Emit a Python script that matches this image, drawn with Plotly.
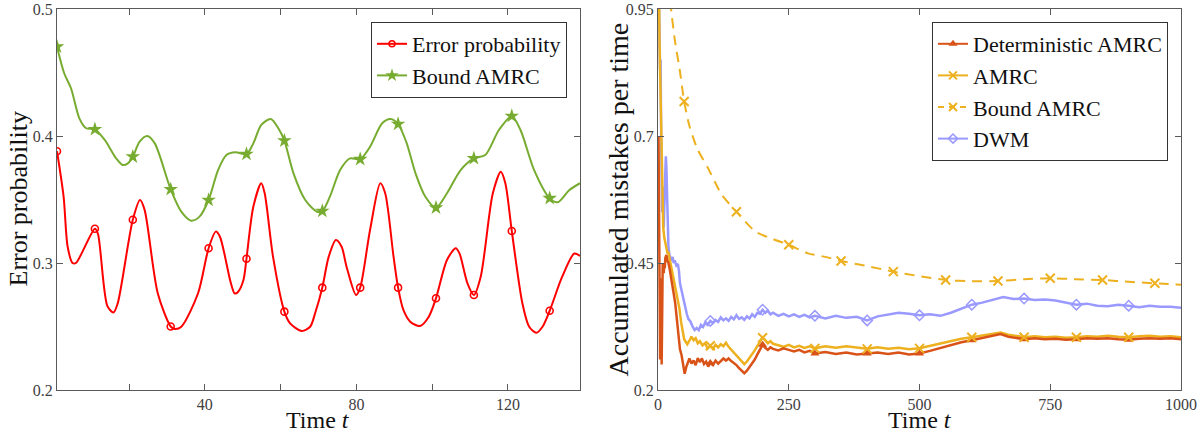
import plotly.graph_objects as go

# ---------------- Left panel data ----------------
err_t = [1, 2.75, 3.8, 5.1, 6.0, 11, 11.8, 14.3, 15.9, 17.0, 21, 22.9, 24.1, 27.6, 31, 32.1, 33.8,
         38.2, 41, 42.9, 44.0, 46.8, 47.9, 48.8, 50.2, 51, 52.8, 54.9, 55.8, 58.0, 61, 62.5, 65.6,
         67.8, 69.1, 71, 72.7, 74.6, 76.1, 77.4, 79.9, 81, 83.6, 86.3, 87.6, 89.8, 91, 92.4, 94.2,
         96.8, 99.1, 101, 103.9, 106.2, 107.2, 109.3, 111, 112.8, 116.0, 118.1, 119.3, 121, 123.8,
         125.6, 127.5, 129.1, 131, 134.3, 137.5, 139]
err_v = [0.388, 0.352, 0.313, 0.300, 0.300, 0.327, 0.323, 0.266, 0.261, 0.268, 0.334, 0.3496, 0.342,
         0.276, 0.250, 0.248, 0.2498, 0.276, 0.3116, 0.3247, 0.3207, 0.285, 0.276, 0.2774, 0.2866,
         0.3034, 0.3443, 0.3628, 0.3549, 0.3050, 0.2617, 0.2525, 0.2465, 0.2498, 0.2604, 0.2806,
         0.3050, 0.3181, 0.3128, 0.2971, 0.2748, 0.2806, 0.3260, 0.3628, 0.3549, 0.3050, 0.2806,
         0.2630, 0.2538, 0.2504, 0.2577, 0.2722, 0.3024, 0.3116, 0.3076, 0.2840, 0.2748, 0.2892,
         0.3549, 0.3719, 0.3628, 0.3252, 0.2683, 0.2498, 0.2451, 0.2498, 0.2624, 0.2892, 0.3075,
         0.3055]

bnd_t = [1, 2.9, 4.7, 6.9, 8.7, 11, 13.6, 16.6, 18.3, 19.7, 21, 22.8, 24.8, 26.8, 31, 33.8, 36.4,
         38.6, 41, 43.5, 45.7, 48.1, 51, 52.8, 54.9, 57.4, 59.4, 61, 63.4, 66.5, 69.6, 71, 73.0,
         75.7, 78.3, 81, 83.6, 86.8, 89.0, 91, 93.2, 95.6, 98.2, 101, 103.9, 107.5, 111, 114.0,
         117.6, 121, 123.3, 126.9, 131, 133.1, 136.2, 139]
bnd_v = [0.4703, 0.4494, 0.4376, 0.4139, 0.4061, 0.4053, 0.3969, 0.3824, 0.3772, 0.3785, 0.3837,
         0.3955, 0.4000, 0.3942, 0.3580, 0.3404, 0.3333, 0.3365, 0.3496, 0.3732, 0.3850, 0.3872,
         0.3858, 0.3942, 0.4087, 0.4134, 0.4061, 0.3963, 0.3706, 0.3496, 0.3404, 0.3409, 0.3522,
         0.3732, 0.3824, 0.3817, 0.3916, 0.4100, 0.4134, 0.4094, 0.3950, 0.3706, 0.3522, 0.3435,
         0.3549, 0.3732, 0.3824, 0.3850, 0.4047, 0.4157, 0.4047, 0.3732, 0.3510, 0.3478, 0.3575,
         0.3628]

left_marker_t = [1, 11, 21, 31, 41, 51, 61, 71, 81, 91, 101, 111, 121, 131]
left_xticks = [20, 40, 60, 80, 100, 120]
left_xticktext = ["", "40", "", "80", "", "120"]
left_yticks = [0.2, 0.3, 0.4, 0.5]

# ---------------- Right panel data ----------------
dwm_t = [1, 2, 3, 4, 5, 6, 7, 8, 9, 10, 11, 12, 13, 14, 15, 16, 17, 18, 19, 20, 22, 24, 26, 28, 30,
         32, 35, 38, 40, 42, 45, 48, 51, 55, 58, 62, 66, 70, 74, 78, 82, 86, 90, 95, 100, 105, 110,
         115, 120, 125, 130, 135, 140, 145, 150, 155, 160, 165, 170, 175, 180, 185, 190, 195, 200,
         205, 210, 215, 220, 230, 240, 250, 260, 270, 280, 290, 300, 320, 340, 360, 380, 400, 420,
         440, 460, 480, 500, 520, 540, 560, 580, 600, 620, 640, 660, 680, 700, 720, 740, 760, 780,
         800, 820, 840, 860, 880, 900, 920, 940, 960, 980, 1000]
dwm_v = [1.0, 0.97, 0.90, 0.83, 0.85, 0.70, 0.62, 0.55, 0.60, 0.53, 0.52, 0.56, 0.58, 0.63, 0.66,
         0.64, 0.60, 0.55, 0.50, 0.48, 0.465, 0.46, 0.455, 0.462, 0.45, 0.455, 0.445, 0.448, 0.435,
         0.41, 0.395, 0.38, 0.365, 0.35, 0.34, 0.335, 0.325, 0.318, 0.322, 0.318, 0.328, 0.324,
         0.332, 0.328, 0.336, 0.332, 0.338, 0.334, 0.343, 0.337, 0.341, 0.336, 0.344, 0.339, 0.347,
         0.340, 0.343, 0.338, 0.345, 0.341, 0.349, 0.344, 0.352, 0.350, 0.358, 0.352, 0.356, 0.349,
         0.352, 0.346, 0.350, 0.345, 0.349, 0.344, 0.348, 0.343, 0.346, 0.341, 0.346, 0.342, 0.344,
         0.337, 0.345, 0.348, 0.352, 0.350, 0.347, 0.349, 0.346, 0.352, 0.360, 0.368, 0.372, 0.378,
         0.383, 0.379, 0.380, 0.377, 0.378, 0.376, 0.372, 0.368, 0.370, 0.366, 0.365, 0.368, 0.366,
         0.363, 0.366, 0.364, 0.364, 0.362]

amrc_t = [1, 2, 3, 4, 5, 6, 7, 8, 9, 10, 12, 14, 16, 18, 20, 22, 24, 26, 29, 32, 35, 38, 41, 44, 47,
          50, 53, 56, 60, 64, 68, 72, 76, 80, 85, 90, 95, 100, 105, 110, 115, 120, 125, 130, 135,
          140, 145, 150, 155, 160, 165, 170, 175, 180, 185, 190, 195, 200, 205, 210, 215, 220, 230,
          240, 250, 260, 270, 280, 290, 300, 320, 340, 360, 380, 400, 420, 440, 460, 480, 500, 520,
          540, 560, 580, 600, 620, 640, 655, 670, 690, 700, 720, 740, 760, 780, 800, 820, 840, 860,
          880, 900, 920, 940, 960, 980, 1000]
amrc_v = [1.0, 0.97, 0.88, 0.83, 0.80, 0.72, 0.64, 0.58, 0.54, 0.52, 0.50, 0.49, 0.48, 0.47, 0.47,
          0.46, 0.445, 0.433, 0.42, 0.41, 0.395, 0.38, 0.36, 0.335, 0.315, 0.30, 0.295, 0.29, 0.297,
          0.305, 0.298, 0.302, 0.292, 0.296, 0.288, 0.292, 0.282, 0.287, 0.281, 0.289, 0.284, 0.29,
          0.286, 0.293, 0.285, 0.279, 0.274, 0.268, 0.262, 0.256, 0.251, 0.256, 0.263, 0.27, 0.278,
          0.287, 0.296, 0.303, 0.298, 0.292, 0.296, 0.291, 0.288, 0.285, 0.289, 0.284, 0.287, 0.283,
          0.286, 0.282, 0.286, 0.283, 0.286, 0.283, 0.281, 0.284, 0.281, 0.283, 0.280, 0.282, 0.287,
          0.292, 0.297, 0.301, 0.304, 0.307, 0.310, 0.313, 0.309, 0.305, 0.304, 0.306, 0.304, 0.305,
          0.303, 0.304, 0.306, 0.305, 0.307, 0.305, 0.304, 0.306, 0.307, 0.305, 0.306, 0.304]

det_t = [1, 2, 3, 4, 5, 6, 7, 8, 9, 10, 11, 12, 13, 14, 16, 18, 20, 22, 24, 26, 28, 30, 33, 36, 39,
         42, 45, 48, 51, 54, 57, 60, 64, 68, 72, 76, 80, 84, 88, 92, 96, 100, 105, 110, 115, 120,
         125, 130, 135, 140, 145, 150, 155, 160, 165, 170, 175, 180, 185, 190, 195, 200, 205, 210,
         215, 220, 230, 240, 250, 260, 270, 280, 290, 300, 320, 340, 360, 380, 400, 420, 440, 460,
         480, 500, 520, 540, 560, 580, 600, 620, 640, 655, 670, 690, 700, 720, 740, 760, 780, 800,
         820, 840, 860, 880, 900, 920, 940, 960, 980, 1000]
det_v = [0.70, 0.50, 0.33, 0.26, 0.30, 0.42, 0.25, 0.38, 0.45, 0.446, 0.43, 0.45, 0.44, 0.46, 0.466,
         0.455, 0.45, 0.44, 0.425, 0.41, 0.40, 0.39, 0.37, 0.335, 0.30, 0.28, 0.269, 0.25, 0.232,
         0.245, 0.256, 0.262, 0.252, 0.258, 0.249, 0.263, 0.255, 0.262, 0.251, 0.256, 0.246, 0.253,
         0.249, 0.258, 0.252, 0.257, 0.262, 0.258, 0.262, 0.257, 0.253, 0.249, 0.243, 0.237, 0.233,
         0.238, 0.245, 0.252, 0.26, 0.27, 0.28, 0.289, 0.283, 0.279, 0.284, 0.281, 0.278, 0.282,
         0.279, 0.276, 0.279, 0.274, 0.277, 0.272, 0.275, 0.271, 0.274, 0.27, 0.272, 0.274, 0.271,
         0.274, 0.270, 0.272, 0.277, 0.283, 0.289, 0.294, 0.298, 0.302, 0.306, 0.31, 0.305, 0.301,
         0.300, 0.302, 0.300, 0.301, 0.299, 0.300, 0.302, 0.301, 0.302, 0.300, 0.299, 0.301, 0.302,
         0.301, 0.302, 0.300]

bamrc_t = [10, 15, 20, 25, 32, 42, 50, 60, 75, 96, 122, 150, 186, 220, 250, 287, 320, 350, 400,
           450, 500, 550, 600, 650, 700, 750, 800, 850, 900, 950, 1000]
bamrc_v = [1.5, 1.15, 1.02, 0.95, 0.89, 0.827, 0.768, 0.72, 0.675, 0.636, 0.584, 0.551, 0.512,
           0.497, 0.486, 0.469, 0.462, 0.454, 0.444, 0.433, 0.424, 0.4165, 0.414, 0.4146, 0.418,
           0.420, 0.418, 0.4165, 0.413, 0.410, 0.407]

bamrc_marker_t = [50, 150, 250, 350, 450, 550, 650, 750, 850, 950]
series_marker_t = [100, 200, 300, 400, 500, 600, 700, 800, 900]
right_xticks = [0, 250, 500, 750, 1000]
right_yticks = [0.2, 0.45, 0.7, 0.95]

# ---------------- Styling ----------------
RED = "#FF0000"
GREEN = "#77AC30"
DORANGE = "#D95319"
YELLOW = "#EDB120"
LBLUE = "#9999FF"
SERIF = "Liberation Serif, Times New Roman, serif"
AXC = "#5a5a5a"


def pick(ts, vs, keys):
    d = dict(zip(ts, vs))
    return [d[k] for k in keys]


fig = go.Figure()

# Left panel curves
fig.add_trace(go.Scatter(x=err_t, y=err_v, mode="lines", line=dict(color=RED, width=2, shape="spline", smoothing=0.8),
                         showlegend=False, xaxis="x", yaxis="y", hoverinfo="skip"))
fig.add_trace(go.Scatter(x=bnd_t, y=bnd_v, mode="lines", line=dict(color=GREEN, width=2, shape="spline", smoothing=0.8),
                         showlegend=False, xaxis="x", yaxis="y", hoverinfo="skip"))
fig.add_trace(go.Scatter(x=left_marker_t, y=pick(err_t, err_v, left_marker_t), mode="markers",
                         marker=dict(symbol="circle-open", size=7, color=RED, line=dict(width=1.6)),
                         showlegend=False, xaxis="x", yaxis="y"))
fig.add_trace(go.Scatter(x=left_marker_t, y=pick(bnd_t, bnd_v, left_marker_t), mode="markers",
                         marker=dict(symbol="star", size=11, color=GREEN, line=dict(width=0)),
                         showlegend=False, xaxis="x", yaxis="y"))
# legend entries (left)
fig.add_trace(go.Scatter(x=[None], y=[None], mode="lines+markers", name="Error probability",
                         line=dict(color=RED, width=2),
                         marker=dict(symbol="circle-open", size=6, color=RED, line=dict(width=1.5)),
                         legend="legend", xaxis="x", yaxis="y"))
fig.add_trace(go.Scatter(x=[None], y=[None], mode="lines+markers", name="Bound AMRC",
                         line=dict(color=GREEN, width=2),
                         marker=dict(symbol="star", size=10, color=GREEN),
                         legend="legend", xaxis="x", yaxis="y"))

# Right panel curves
fig.add_trace(go.Scatter(x=dwm_t, y=dwm_v, mode="lines", line=dict(color=LBLUE, width=2.5),
                         showlegend=False, xaxis="x2", yaxis="y2", hoverinfo="skip"))
fig.add_trace(go.Scatter(x=bamrc_t, y=bamrc_v, mode="lines",
                         line=dict(color=YELLOW, width=2, dash="10px,7px", shape="spline", smoothing=0.6),
                         showlegend=False, xaxis="x2", yaxis="y2", hoverinfo="skip"))
fig.add_trace(go.Scatter(x=amrc_t, y=amrc_v, mode="lines", line=dict(color=YELLOW, width=2.5),
                         showlegend=False, xaxis="x2", yaxis="y2", hoverinfo="skip"))
fig.add_trace(go.Scatter(x=det_t, y=det_v, mode="lines", line=dict(color=DORANGE, width=2.5),
                         showlegend=False, xaxis="x2", yaxis="y2", hoverinfo="skip"))
# markers (right)
fig.add_trace(go.Scatter(x=series_marker_t, y=pick(dwm_t, dwm_v, series_marker_t), mode="markers",
                         marker=dict(symbol="diamond-open", size=8, color=LBLUE, line=dict(width=1.5)),
                         showlegend=False, xaxis="x2", yaxis="y2"))
fig.add_trace(go.Scatter(x=bamrc_marker_t, y=pick(bamrc_t, bamrc_v, bamrc_marker_t), mode="markers",
                         marker=dict(symbol="x-thin-open", size=9, color=YELLOW, line=dict(width=2, color=YELLOW)),
                         showlegend=False, xaxis="x2", yaxis="y2"))
fig.add_trace(go.Scatter(x=series_marker_t, y=pick(det_t, det_v, series_marker_t), mode="markers",
                         marker=dict(symbol="triangle-up", size=8, color=DORANGE),
                         showlegend=False, xaxis="x2", yaxis="y2"))
fig.add_trace(go.Scatter(x=series_marker_t, y=pick(amrc_t, amrc_v, series_marker_t), mode="markers",
                         marker=dict(symbol="x-thin-open", size=9, color=YELLOW, line=dict(width=2, color=YELLOW)),
                         showlegend=False, xaxis="x2", yaxis="y2"))
# legend entries (right)
fig.add_trace(go.Scatter(x=[None], y=[None], mode="lines+markers", name="Deterministic AMRC",
                         line=dict(color=DORANGE, width=2), marker=dict(symbol="triangle-up", size=8, color=DORANGE),
                         legend="legend2", xaxis="x2", yaxis="y2"))
fig.add_trace(go.Scatter(x=[None], y=[None], mode="lines+markers", name="AMRC",
                         line=dict(color=YELLOW, width=2),
                         marker=dict(symbol="x-thin-open", size=8, color=YELLOW, line=dict(width=2, color=YELLOW)),
                         legend="legend2", xaxis="x2", yaxis="y2"))
fig.add_trace(go.Scatter(x=[None], y=[None], mode="lines+markers", name="Bound AMRC",
                         line=dict(color=YELLOW, width=2, dash="6px,5px"),
                         marker=dict(symbol="x-thin-open", size=8, color=YELLOW, line=dict(width=2, color=YELLOW)),
                         legend="legend2", xaxis="x2", yaxis="y2"))
fig.add_trace(go.Scatter(x=[None], y=[None], mode="lines+markers", name="DWM",
                         line=dict(color=LBLUE, width=2),
                         marker=dict(symbol="diamond-open", size=7, color=LBLUE, line=dict(width=1.5)),
                         legend="legend2", xaxis="x2", yaxis="y2"))

W, H = 1200, 435
ydom = [(H - 390) / H, (H - 9) / H]
axis_common = dict(showline=True, linecolor=AXC, linewidth=1.2, mirror="ticks", ticks="inside",
                   ticklen=6, tickcolor=AXC, tickwidth=1, showgrid=False, zeroline=False,
                   automargin=False,
                   tickfont=dict(family=SERIF, size=16, color="#404040"))

fig.update_layout(
    width=W, height=H, margin=dict(l=0, r=0, t=0, b=0, autoexpand=False),
    paper_bgcolor="white", plot_bgcolor="white",
    xaxis=dict(domain=[57 / W, 580 / W], range=[1, 139], tickmode="array", tickvals=left_xticks,
               ticktext=left_xticktext, anchor="y", **axis_common),
    yaxis=dict(domain=ydom, range=[0.2, 0.5], tickmode="array", tickvals=left_yticks,
               ticktext=["0.2", "0.3", "0.4", "0.5"], anchor="x", **axis_common),
    xaxis2=dict(domain=[658 / W, 1181 / W], range=[0, 1000], tickmode="array", tickvals=right_xticks,
                ticktext=[str(v) for v in right_xticks], anchor="y2", **axis_common),
    yaxis2=dict(domain=ydom, range=[0.2, 0.95], tickmode="array", tickvals=right_yticks,
                ticktext=["0.2", "0.45", "0.7", "0.95"], anchor="x2", **axis_common),
    legend=dict(x=567 / W, y=1 - 22 / H, xanchor="right", yanchor="top", bgcolor="white",
                bordercolor="#333", borderwidth=1, font=dict(family=SERIF, size=22, color="#111"),
                itemwidth=30, tracegroupgap=0),
    legend2=dict(x=1168 / W, y=1 - 22 / H, xanchor="right", yanchor="top", bgcolor="white",
                 bordercolor="#333", borderwidth=1, font=dict(family=SERIF, size=22, color="#111"),
                 itemwidth=30),
    annotations=[
        dict(text="Error probability", x=18 / W, y=sum(ydom) / 2, xref="paper", yref="paper",
             textangle=-90, showarrow=False, xanchor="center", yanchor="middle",
             font=dict(family=SERIF, size=26, color="#111")),
        dict(text="Accumulated mistakes per time", x=618 / W, y=sum(ydom) / 2, xref="paper", yref="paper",
             textangle=-90, showarrow=False, xanchor="center", yanchor="middle",
             font=dict(family=SERIF, size=28, color="#111")),
        dict(text="Time <i>t</i>", x=318 / W, y=(H - 420) / H, xref="paper", yref="paper",
             showarrow=False, xanchor="center", yanchor="middle",
             font=dict(family=SERIF, size=24, color="#111")),
        dict(text="Time <i>t</i>", x=920 / W, y=(H - 420) / H, xref="paper", yref="paper",
             showarrow=False, xanchor="center", yanchor="middle",
             font=dict(family=SERIF, size=24, color="#111")),
    ],
)

fig.write_html("out.html")
